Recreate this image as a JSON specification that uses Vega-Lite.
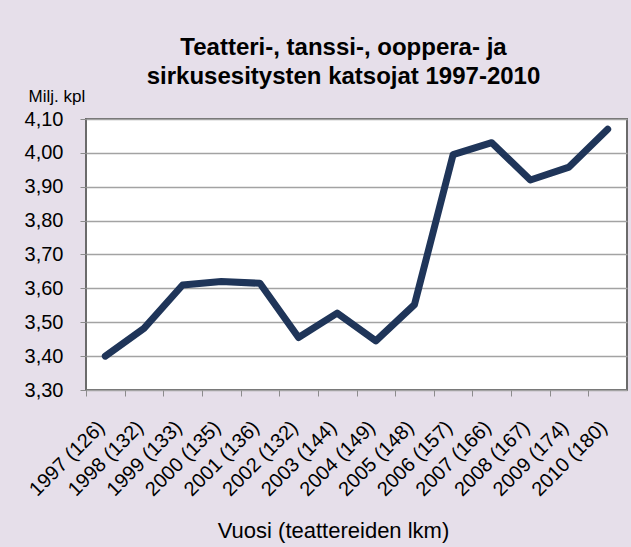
{
  "$schema": "https://vega.github.io/schema/vega-lite/v6.json",
  "width": 541,
  "height": 271,
  "autosize": "none",
  "padding": {"left": 86, "top": 119, "right": 4, "bottom": 157},
  "background": "#e6dfea",
  "config": {
    "font": "Liberation Sans",
    "view": {"fill": "white", "stroke": "#6b6b6b", "strokeWidth": 2}
  },
  "title": {
    "text": ["Teatteri-, tanssi-, ooppera- ja", "sirkusesitysten katsojat 1997-2010"],
    "fontSize": 24,
    "lineHeight": 29,
    "fontWeight": "bold",
    "color": "#000000",
    "anchor": "middle",
    "frame": "group",
    "dx": -13,
    "dy": 8,
    "offset": 6
  },
  "data": {
    "values": [
      {"vuosi": "1997 (126)", "katsojat": 3.40},
      {"vuosi": "1998 (132)", "katsojat": 3.482},
      {"vuosi": "1999 (133)", "katsojat": 3.61},
      {"vuosi": "2000 (135)", "katsojat": 3.62},
      {"vuosi": "2001 (136)", "katsojat": 3.615},
      {"vuosi": "2002 (132)", "katsojat": 3.455},
      {"vuosi": "2003 (144)", "katsojat": 3.527},
      {"vuosi": "2004 (149)", "katsojat": 3.445},
      {"vuosi": "2005 (148)", "katsojat": 3.552},
      {"vuosi": "2006 (157)", "katsojat": 3.995},
      {"vuosi": "2007 (166)", "katsojat": 4.03},
      {"vuosi": "2008 (167)", "katsojat": 3.92},
      {"vuosi": "2009 (174)", "katsojat": 3.958},
      {"vuosi": "2010 (180)", "katsojat": 4.07}
    ]
  },
  "mark": {"type": "line", "color": "#1f3559", "strokeWidth": 7, "strokeCap": "round", "strokeJoin": "round"},
  "encoding": {
    "x": {
      "field": "vuosi",
      "type": "ordinal",
      "sort": null,
      "scale": {"type": "point", "padding": 0.5},
      "axis": {
        "title": "Vuosi (teattereiden lkm)",
        "titleFontSize": 22,
        "titleFontWeight": "normal",
        "titleColor": "#000000",
        "titleAlign": "center",
        "titleBaseline": "alphabetic",
        "titleX": 247,
        "titleY": 147,
        "labelAngle": -45,
        "labelAlign": "right",
        "labelBaseline": "middle",
        "labelFontSize": 20,
        "labelColor": "#000000",
        "labelOffset": 15,
        "labelPadding": 28,
        "labelOverlap": false,
        "labelBound": false,
        "tickOffset": -19.3,
        "tickSize": 6,
        "tickColor": "#8c8c8c",
        "domain": false,
        "grid": false
      }
    },
    "y": {
      "field": "katsojat",
      "type": "quantitative",
      "scale": {"domain": [3.3, 4.1], "nice": false, "zero": false},
      "axis": {
        "title": "Milj. kpl",
        "titleAngle": 0,
        "titleAlign": "left",
        "titleBaseline": "alphabetic",
        "titleX": -58,
        "titleY": -18,
        "titleFontSize": 17,
        "titleFontWeight": "normal",
        "titleColor": "#000000",
        "values": [3.3, 3.4, 3.5, 3.6, 3.7, 3.8, 3.9, 4.0, 4.1],
        "labelExpr": "replace(format(datum.value, '.2f'), '.', ',')",
        "labelFontSize": 20,
        "labelColor": "#000000",
        "labelPadding": 17,
        "tickSize": 6,
        "tickColor": "#8c8c8c",
        "domain": false,
        "gridColor": "#a3a3a3",
        "gridWidth": 1.5
      }
    }
  }
}
